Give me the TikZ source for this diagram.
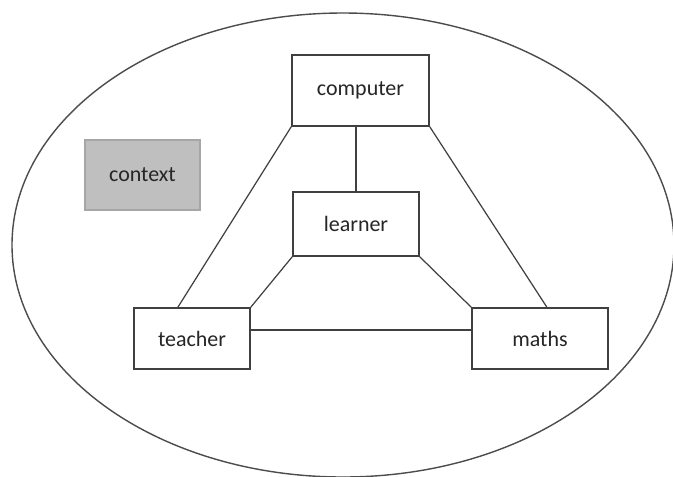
\documentclass[tikz,border=0pt]{standalone}
\usepackage{fontspec}
\setmainfont{Carlito}
\usepackage{tikz}
\usetikzlibrary{calc, positioning}
\tikzset{box/.style={draw=black!75, line width=0.9pt, fill=white, inner sep=0pt, font=\fontsize{12.5}{15}\selectfont, text=black!85}}
\tikzset{link/.style={draw=black!75, line width=0.7pt}}

\begin{document}
\begin{tikzpicture}
		\useasboundingbox (0,0) rectangle (13.46,-9.52);
		\clip (0,0) rectangle (13.46,-9.52);
		\draw[black!70, line width=0.8pt] (6.86,-4.90) ellipse [x radius=6.62cm, y radius=4.64cm];

		\node[box, minimum width=2.74cm, minimum height=1.42cm] (computer) at (7.21,-1.81) {computer};
		\node[box, minimum width=2.52cm, minimum height=1.28cm] (learner) at (7.12,-4.48) {learner};
		\node[box, minimum width=2.32cm, minimum height=1.22cm] (teacher) at (3.84,-6.77) {teacher};
		\node[box, minimum width=2.72cm, minimum height=1.22cm] (maths) at (10.80,-6.77) {maths};
		\node[box, draw=black!35, fill=black!25, minimum width=2.3cm, minimum height=1.4cm] (context) at (2.85,-3.50) {context};

		\draw[link] (learner.north) -- (learner.north |- computer.south);
		\draw[link] (computer.south west) -- ($(teacher.north west)!0.38!(teacher.north east)$);
		\draw[link] (computer.south east) -- ($(maths.north west)!0.55!(maths.north east)$);
		\draw[link] (learner.south west) -- (teacher.north east);
		\draw[link] (learner.south east) -- (maths.north west);
		\draw[link] ([yshift=0.17cm]teacher.east) -- ([yshift=0.17cm]maths.west);
	\end{tikzpicture}
\end{document}
